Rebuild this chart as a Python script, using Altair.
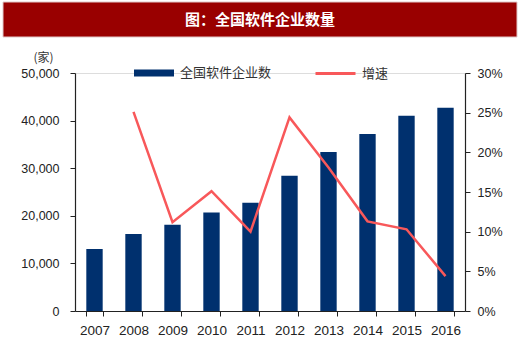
import altair as alt
import pandas as pd

years = ["2007", "2008", "2009", "2010", "2011", "2012", "2013", "2014", "2015", "2016"]
companies = [13000, 16200, 18100, 20700, 22750, 28400, 33400, 37200, 41000, 42700]
growth = [None, 0.251, 0.112, 0.151, 0.100, 0.244, 0.181, 0.113, 0.103, 0.044]
bar_name = "全国软件企业数"
line_name = "增速"
title_text = "图：全国软件企业数量"

df = pd.DataFrame({"year": years, "companies": companies, "growth": growth,
                   "s1": bar_name, "s2": line_name})
line_df = df.dropna(subset=["growth"])

NUM_FONT = "Liberation Sans"
CJK_FONT = "Noto Sans CJK SC"

x_enc = alt.X("year:N", title=None,
              scale=alt.Scale(paddingInner=0.58, paddingOuter=0.29),
              axis=alt.Axis(labelAngle=0, tickBand="extent", tickSize=5,
                            labelPadding=7, labelFontSize=13.5, labelFont=NUM_FONT,
                            labelColor="#222222", domainColor="#222222",
                            tickColor="#222222", domainWidth=1.2, grid=False))

bars = alt.Chart(df).mark_bar().encode(
    x=x_enc,
    y=alt.Y("companies:Q", scale=alt.Scale(domain=[0, 50000], nice=False),
            axis=alt.Axis(values=[0, 10000, 20000, 30000, 40000, 50000], format=",.0f",
                          title="(家)", titleAngle=0, titleX=-32, titleY=-9,
                          titleAlign="center", titleFont=CJK_FONT, titleFontSize=12,
                          titleFontWeight="normal", titleColor="#333333",
                          labelFontSize=12.5, labelFont=NUM_FONT, labelColor="#222222",
                          tickSize=5, labelPadding=11, domainColor="#222222",
                          tickColor="#222222", domainWidth=1.2, grid=False)),
    fill=alt.Fill("s1:N", scale=alt.Scale(range=["#00306E"]),
                  legend=alt.Legend(title=None, orient="none", legendX=58, legendY=-21,
                                    symbolType="M-1,-0.18H1V0.18H-1Z", symbolSize=1600,
                                    labelFont=CJK_FONT, labelFontSize=13,
                                    labelColor="#333333", padding=0, labelOffset=5)),
)

line = alt.Chart(line_df).mark_line(strokeWidth=2.5).encode(
    x=alt.X("year:N"),
    y=alt.Y("growth:Q", scale=alt.Scale(domain=[0, 0.30], nice=False),
            axis=alt.Axis(orient="right", values=[0, 0.05, 0.10, 0.15, 0.20, 0.25, 0.30],
                          format=".0%", title=None, labelFontSize=12.5, labelFont=NUM_FONT,
                          labelColor="#222222", tickSize=5, labelPadding=7,
                          domainColor="#222222", tickColor="#222222", domainWidth=1.2,
                          grid=False)),
    stroke=alt.Stroke("s2:N", scale=alt.Scale(range=["#F8585A"]),
                      legend=alt.Legend(title=None, orient="none", legendX=239, legendY=-21,
                                        symbolType="stroke", symbolSize=1600,
                                        symbolStrokeWidth=3,
                                        labelFont=CJK_FONT, labelFontSize=13,
                                        labelColor="#333333", padding=0, labelOffset=5)),
)

title_df = pd.DataFrame({"t": [title_text]})
banner = alt.Chart(title_df).mark_rect(fill="#990000", stroke="#E0C8C8", strokeWidth=1).encode(
    x=alt.value(-72), x2=alt.value(442), y=alt.value(-71), y2=alt.value(-36))
banner_text = alt.Chart(title_df).mark_text(
    color="white", font=CJK_FONT, fontSize=15, fontWeight="bold",
    align="center", baseline="middle").encode(
    x=alt.value(185), y=alt.value(-53), text="t:N")

chart = alt.layer(banner, banner_text, bars, line).resolve_scale(
    y="independent", fill="independent", stroke="independent"
).properties(
    width=390, height=238,
    autosize=alt.AutoSizeParams(type="none"),
    padding={"left": 75, "top": 73, "right": 55, "bottom": 40},
).configure_view(stroke=None).configure(background="white")

chart.save("out.html", embed_options={"renderer": "svg", "actions": False})
